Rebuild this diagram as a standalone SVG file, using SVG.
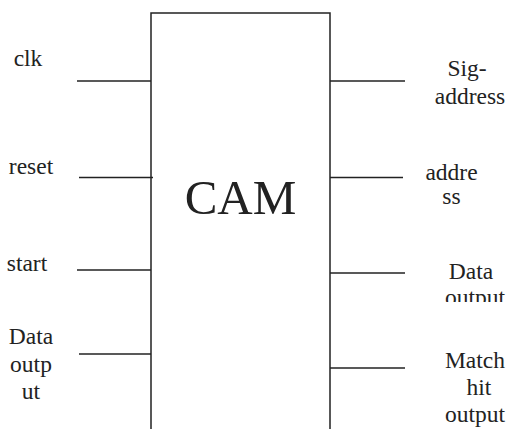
<svg xmlns="http://www.w3.org/2000/svg" width="511" height="429" viewBox="0 0 511 429">
<style>
.ln{stroke:#222;stroke-width:1.5;fill:none}
.t{font-family:"Liberation Serif","Times New Roman",Times,serif;font-size:23.5px;fill:#222;text-anchor:middle}
</style>
<defs>
<clipPath id="cut"><rect x="400" y="240" width="111" height="62"/></clipPath>
</defs>
<rect width="511" height="429" fill="#fff"/>
<g id="cam">
<path class="ln" d="M151,432 V13 H330 V432"/>
<text x="240.5" y="214" style="font-family:'Liberation Serif','Times New Roman',Times,serif;font-size:49px;fill:#222;text-anchor:middle">CAM</text>
</g>
<g id="connectors">
<line class="ln" x1="77" y1="81" x2="151" y2="81"/>
<line class="ln" x1="79" y1="177.5" x2="153" y2="177.5"/>
<line class="ln" x1="77" y1="270" x2="151" y2="270"/>
<line class="ln" x1="79" y1="354" x2="151" y2="354"/>
<line class="ln" x1="330" y1="81" x2="405" y2="81"/>
<line class="ln" x1="330" y1="177.5" x2="403" y2="177.5"/>
<line class="ln" x1="330" y1="273" x2="405" y2="273"/>
<line class="ln" x1="330" y1="368" x2="405" y2="368"/>
</g>
<g id="clk"><text class="t" x="28" y="66">clk</text></g>
<g id="reset"><text class="t" x="31" y="174">reset</text></g>
<g id="start"><text class="t" x="27" y="271">start</text></g>
<g id="data-in"><text class="t" x="31" y="344">Data</text><text class="t" x="31" y="371.5">outp</text><text class="t" x="31" y="399">ut</text></g>
<g id="sig-address"><text class="t" x="467" y="76">Sig-</text><text class="t" x="470" y="104">address</text></g>
<g id="address"><text class="t" x="451.5" y="180">addre</text><text class="t" x="451.5" y="204">ss</text></g>
<g id="data-output" clip-path="url(#cut)"><text class="t" x="471" y="279">Data</text><text class="t" x="475" y="305">output</text></g>
<g id="match"><text class="t" x="475" y="368">Match</text><text class="t" x="479" y="395">hit</text><text class="t" x="475" y="422">output</text></g>
</svg>
